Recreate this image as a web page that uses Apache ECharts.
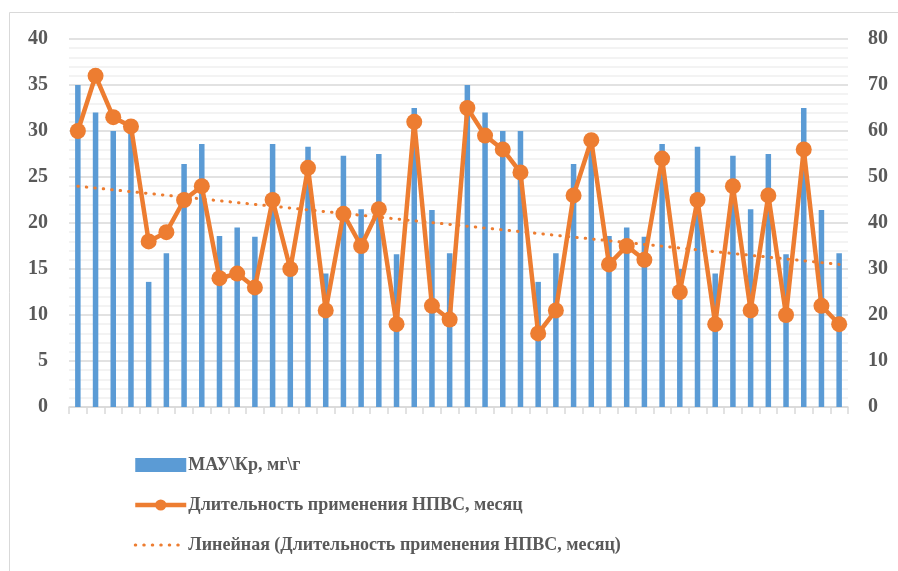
<!DOCTYPE html>
<html>
<head>
<meta charset="utf-8">
<script src="https://cdn.jsdelivr.net/npm/echarts@6/dist/echarts.min.js"></script>
<style>
  html, body { margin: 0; padding: 0; background: #fff; }
  #chart { width: 898px; height: 571px; }
</style>
</head>
<body>
<div id="chart"></div>
<script>
// patients 1..44
const patients = Array.from({ length: 44 }, (_, i) => String(i + 1));

const mauKr = [35, 32, 30, 30, 13.6, 16.7, 26.4, 28.6, 18.6, 19.5, 18.5, 28.6, 15, 28.3, 14.5, 27.3, 21.5, 27.5, 16.6, 32.5, 21.4, 16.7,
               35, 32, 30, 30, 13.6, 16.7, 26.4, 28.6, 18.6, 19.5, 18.5, 28.6, 15, 28.3, 14.5, 27.3, 21.5, 27.5, 16.6, 32.5, 21.4, 16.7];

const nsaidMonths = [60, 72, 63, 61, 36, 38, 45, 48, 28, 29, 26, 45, 30, 52, 21, 42, 35, 43, 18, 62, 22, 19,
                     65, 59, 56, 51, 16, 21, 46, 58, 31, 35, 32, 54, 25, 45, 18, 48, 21, 46, 20, 56, 22, 18];

// trend line end values
const trendStart = 48;
const trendEnd = 31;

const leftTicks = { min: 0, max: 40, interval: 5 };
const rightTicks = { min: 0, max: 80, interval: 10 };

const seriesNames = [
  'МАУ\\Кр, мг\\г',
  'Длительность применения НПВС, месяц',
  'Линейная (Длительность применения НПВС, месяц)'
];

const trend = patients.map((_, i) => i === 0 ? trendStart : (i === patients.length - 1 ? trendEnd : null));

const chart = echarts.init(document.getElementById('chart'));
const font = '"Liberation Serif", "Times New Roman", serif';
const labelStyle = { color: '#595959', fontFamily: font, fontWeight: 'bold', fontSize: 20 };

chart.setOption({
  animation: false,
  backgroundColor: '#fff',
  graphic: [{
    type: 'rect',
    left: 7, top: 10,
    shape: { width: 900, height: 600 },
    style: { fill: 'none', stroke: '#d9d9d9', lineWidth: 1 },
    silent: true
  }],
  legend: {
    orient: 'vertical',
    left: 128,
    top: 451,
    itemGap: 22,
    itemWidth: 51,
    itemHeight: 14,
    data: [
      { name: seriesNames[0], icon: 'rect' },
      { name: seriesNames[1], lineStyle: { width: 4.5 } },
      { name: seriesNames[2], itemStyle: { opacity: 0 }, lineStyle: { width: 3 } }
    ],
    textStyle: { color: '#595959', fontFamily: font, fontWeight: 'bold', fontSize: 18, padding: [0, 0, 0, -3] }
  },
  grid: { left: 69, right: 50, top: 39, bottom: 164 },
  xAxis: {
    type: 'category',
    data: patients,
    boundaryGap: true,
    axisLine: { lineStyle: { color: '#d9d9d9', width: 1.5 } },
    axisTick: { show: true, length: 7, lineStyle: { color: '#d9d9d9', width: 1.5 } },
    axisLabel: { show: false }
  },
  yAxis: [{
    type: 'value',
    min: leftTicks.min, max: leftTicks.max, interval: leftTicks.interval,
    axisLine: { show: false },
    axisTick: { show: false },
    axisLabel: Object.assign({ margin: 21 }, labelStyle),
    splitLine: { lineStyle: { color: '#d9d9d9', width: 1.5 } },
    minorTick: { show: false, splitNumber: 5 },
    minorSplitLine: { show: true, lineStyle: { color: '#f0f0f0', width: 1.5 } }
  }, {
    type: 'value',
    position: 'right',
    min: rightTicks.min, max: rightTicks.max, interval: rightTicks.interval,
    axisLine: { show: false },
    axisTick: { show: false },
    axisLabel: Object.assign({ margin: 20 }, labelStyle),
    splitLine: { show: false }
  }],
  series: [{
    name: seriesNames[0],
    type: 'bar',
    yAxisIndex: 0,
    barWidth: 5.5,
    itemStyle: { color: '#5B9BD5' },
    data: mauKr
  }, {
    name: seriesNames[1],
    type: 'line',
    yAxisIndex: 1,
    symbol: 'circle',
    symbolSize: 16,
    showSymbol: true,
    showAllSymbol: true,
    lineStyle: { color: '#ED7D31', width: 4.5 },
    itemStyle: { color: '#ED7D31' },
    data: nsaidMonths,
    z: 3
  }, {
    name: seriesNames[2],
    type: 'line',
    yAxisIndex: 1,
    symbol: 'none',
    connectNulls: true,
    lineStyle: { color: '#ED7D31', width: 3, type: [0.5, 8], cap: 'round' },
    itemStyle: { color: '#ED7D31' },
    data: trend,
    z: 2
  }]
});
</script>
</body>
</html>
